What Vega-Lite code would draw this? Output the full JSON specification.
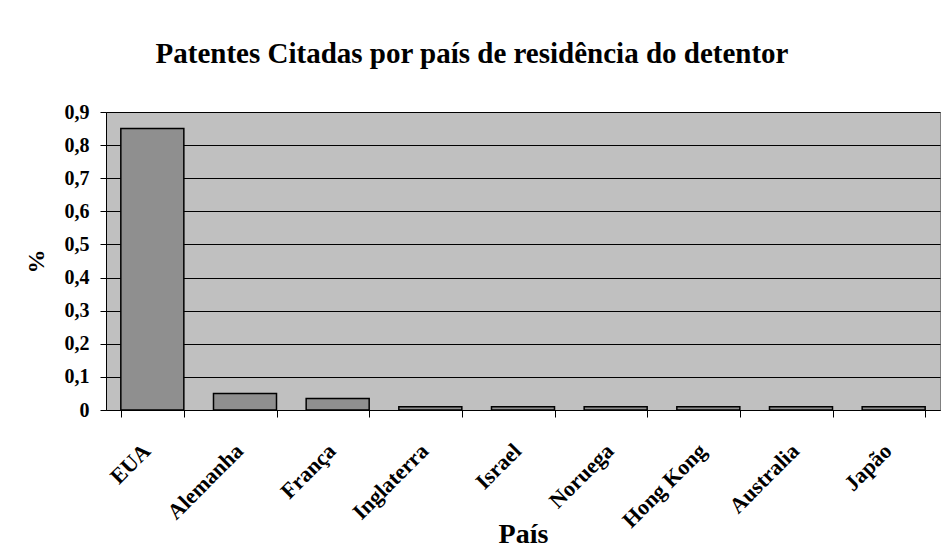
{
  "$schema": "https://vega.github.io/schema/vega-lite/v6.json",
  "width": 834,
  "height": 298,
  "autosize": {"type": "none"},
  "padding": {"left": 106, "top": 112, "right": 1, "bottom": 142},
  "background": "#ffffff",
  "title": {
    "text": "Patentes Citadas por país de residência do detentor",
    "font": "Liberation Serif",
    "fontSize": 29,
    "fontWeight": "bold",
    "color": "#000000",
    "anchor": "middle",
    "frame": "group",
    "dx": -51,
    "baseline": "alphabetic",
    "offset": 10
  },
  "data": {
    "values": [
      {"pais": "EUA", "valor": 0.85},
      {"pais": "Alemanha", "valor": 0.05},
      {"pais": "França", "valor": 0.035},
      {"pais": "Inglaterra", "valor": 0.01},
      {"pais": "Israel", "valor": 0.01},
      {"pais": "Noruega", "valor": 0.01},
      {"pais": "Hong Kong", "valor": 0.01},
      {"pais": "Australia", "valor": 0.01},
      {"pais": "Japão", "valor": 0.01}
    ]
  },
  "mark": {"type": "bar", "fill": "#8f8f8f", "stroke": "#000000", "strokeWidth": 1.5},
  "encoding": {
    "x": {
      "field": "pais",
      "type": "nominal",
      "sort": null,
      "scale": {"paddingInner": 0.32, "paddingOuter": 0.16},
      "axis": {
        "title": "País",
        "titleFontSize": 28,
        "titleY": 132,
        "titleBaseline": "alphabetic",
        "labelAngle": -45,
        "labelAlign": "right",
        "labelBaseline": "middle",
        "labelFontSize": 22,
        "labelPadding": 30,
        "labelOffset": -6,
        "tickBand": "extent",
        "tickSize": 7
      }
    },
    "y": {
      "field": "valor",
      "type": "quantitative",
      "scale": {"domain": [0, 0.9], "nice": false},
      "axis": {
        "title": "%",
        "titleFontSize": 24,
        "titleX": -70,
        "titleBaseline": "middle",
        "values": [0, 0.1, 0.2, 0.3, 0.4, 0.5, 0.6, 0.7, 0.8, 0.9],
        "labelExpr": "datum.value == 0 ? '0' : replace(format(datum.value, '.1f'), '.', ',')",
        "labelFontSize": 20,
        "labelPadding": 11,
        "tickSize": 6,
        "grid": true
      }
    }
  },
  "config": {
    "view": {"fill": "#c0c0c0", "stroke": "#808080"},
    "axis": {
      "labelFont": "Liberation Serif",
      "labelFontWeight": "bold",
      "labelColor": "#000000",
      "titleFont": "Liberation Serif",
      "titleFontWeight": "bold",
      "titleColor": "#000000",
      "domainColor": "#000000",
      "tickColor": "#000000",
      "gridColor": "#000000",
      "gridOpacity": 1,
      "domainWidth": 1,
      "tickWidth": 1
    },
    "axisX": {"grid": false}
  }
}
